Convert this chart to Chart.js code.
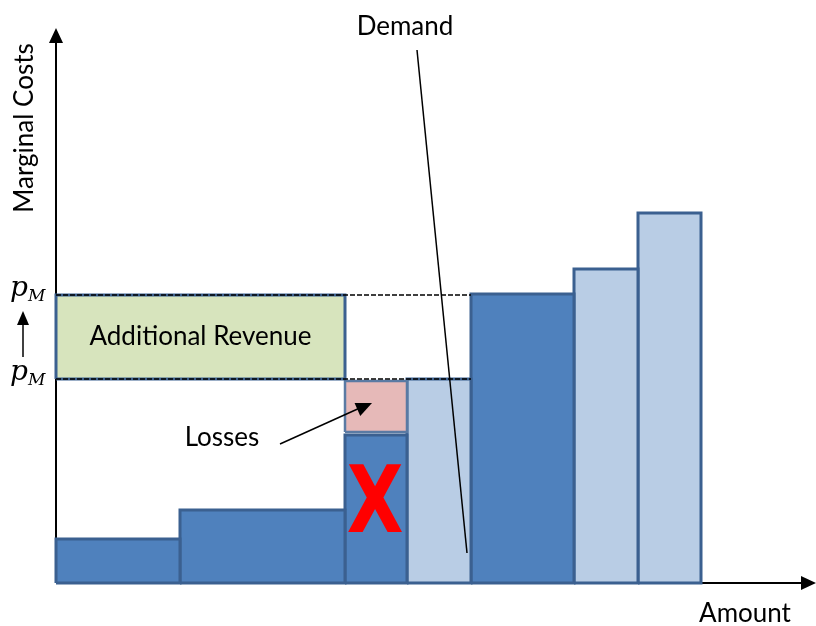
<!DOCTYPE html>
<html>
<head>
<meta charset="utf-8">
<script src="https://cdn.jsdelivr.net/npm/chart.js@4.4.1/dist/chart.umd.min.js"></script>
<style>
  html, body { margin: 0; padding: 0; background: #fff; }
  #wrap { width: 816px; height: 626px; position: relative; }
</style>
</head>
<body>
<div id="wrap"><canvas id="meritChart"></canvas></div>
<script>
// merit order blocks (amount units / cost units)
const blockWidths = [124, 165, 62, 64, 103, 64, 63];
const blockCosts = [44, 73, 148, 204, 289, 314, 370];
const ownedByFirm = [true, true, true, false, true, false, false];

const priceLow = 204;
const priceHigh = 288;
const lossBottom = 151;
const withheldBlock = 2;      // the block marked with X
const demandLine = [{ x: 361, y: 533 }, { x: 411, y: 30 }];

const axisMaxX = 760;
const axisMaxY = 555;

const darkFill = '#4f81bd';
const lightFill = '#b9cde5';
const edge = '#3b6090';
const font = 'Lato, "Open Sans", sans-serif';

// cumulative starts of each block
const starts = [];
let acc = 0;
blockWidths.forEach(w => { starts.push(acc); acc += w; });

function rect(x0, x1, y0, y1) {
    return [
        { x: x0, y: y0 }, { x: x0, y: y1 }, { x: x1, y: y1 }, { x: x1, y: y0 }, { x: x0, y: y0 }
    ];
}

const datasets = [];

// dashed price lines, drawn over the boxes
const dashEnd = starts[4];
[priceHigh, priceLow].forEach(p => {
    datasets.push({
        data: [{ x: 0, y: p }, { x: dashEnd, y: p }],
        borderColor: '#000',
        borderWidth: 1.5,
        borderDash: [5, 2],
        fill: false,
        order: 2
    });
});

blockWidths.forEach((w, i) => {
    datasets.push({
        data: rect(starts[i], starts[i] + w, 0, blockCosts[i]),
        borderColor: edge,
        borderWidth: 3,
        backgroundColor: ownedByFirm[i] ? darkFill : lightFill,
        fill: 'shape',
        order: 10
    });
});

// additional revenue box
datasets.push({
    data: rect(0, starts[withheldBlock], priceLow, priceHigh),
    borderColor: edge,
    borderWidth: 3,
    backgroundColor: '#d7e4bd',
    fill: 'shape',
    order: 5
});

// losses box on top of the withheld block
datasets.push({
    data: rect(starts[withheldBlock], starts[withheldBlock] + blockWidths[withheldBlock], lossBottom, priceLow - 2),
    borderColor: '#5a7aa3',
    borderWidth: 2.5,
    backgroundColor: '#e6b9b8',
    fill: 'shape',
    order: 5
});

// demand
datasets.push({
    data: demandLine,
    borderColor: '#000',
    borderWidth: 1.5,
    fill: false,
    order: 1
});

function arrowHead(ctx, x0, y0, x1, y1, len, half) {
    const a = Math.atan2(y1 - y0, x1 - x0);
    ctx.beginPath();
    ctx.moveTo(x1, y1);
    ctx.lineTo(x1 - len * Math.cos(a) + half * Math.sin(a), y1 - len * Math.sin(a) - half * Math.cos(a));
    ctx.lineTo(x1 - len * Math.cos(a) - half * Math.sin(a), y1 - len * Math.sin(a) + half * Math.cos(a));
    ctx.closePath();
    ctx.fill();
}

const axesPlugin = {
    id: 'axes',
    beforeDatasetsDraw(chart) {
        const { ctx } = chart;
        const xs = chart.scales.x, ys = chart.scales.y;
        const ox = xs.getPixelForValue(0), oy = ys.getPixelForValue(0);
        const top = ys.getPixelForValue(axisMaxY), right = xs.getPixelForValue(axisMaxX);
        ctx.save();
        ctx.strokeStyle = '#000';
        ctx.fillStyle = '#000';
        ctx.lineWidth = 2;
        ctx.beginPath();
        ctx.moveTo(ox, oy);
        ctx.lineTo(ox, top + 10);
        ctx.moveTo(ox, oy);
        ctx.lineTo(right - 10, oy);
        ctx.stroke();
        arrowHead(ctx, ox, oy, ox, top, 15, 7);
        arrowHead(ctx, ox, oy, right, oy, 15, 7);
        ctx.restore();
    }
};

const labelsPlugin = {
    id: 'labels',
    afterDatasetsDraw(chart) {
        const { ctx } = chart;
        const xs = chart.scales.x, ys = chart.scales.y;
        const px = v => xs.getPixelForValue(v), py = v => ys.getPixelForValue(v);
        ctx.save();
        ctx.fillStyle = '#000';
        ctx.textAlign = 'center';
        ctx.textBaseline = 'middle';

        ctx.font = '26px ' + font;
        ctx.fillText('Additional Revenue', px(starts[withheldBlock] / 2), py((priceLow + priceHigh) / 2));
        ctx.fillText('Losses', px(166), py(145));
        ctx.fillText('Demand', px(349), 27);
        ctx.fillText('Amount', 745, 614);

        // losses arrow
        ctx.strokeStyle = '#000';
        ctx.lineWidth = 1.5;
        ctx.beginPath();
        ctx.moveTo(px(224), py(139));
        ctx.lineTo(px(306), py(176));
        ctx.stroke();
        arrowHead(ctx, px(224), py(139), px(316), py(180), 16, 7);

        // X over the withheld block, a bit narrowed
        ctx.save();
        ctx.fillStyle = '#ff0000';
        ctx.font = 'bold 92px "DejaVu Sans", "Liberation Sans", sans-serif';
        ctx.textBaseline = 'alphabetic';
        ctx.translate(px(starts[withheldBlock] + blockWidths[withheldBlock] / 2) - 1, py(51));
        ctx.scale(0.8, 1);
        ctx.fillText('X', 0, 0);
        ctx.restore();

        // y axis title
        ctx.fillStyle = '#000';
        ctx.save();
        ctx.translate(25, 128);
        ctx.rotate(-Math.PI / 2);
        ctx.font = '26px ' + font;
        ctx.fillText('Marginal Costs', 0, 0);
        ctx.restore();

        // price labels
        [priceHigh, priceLow].forEach(p => {
            const y = py(p) - 2;
            ctx.textAlign = 'left';
            ctx.textBaseline = 'alphabetic';
            ctx.font = 'italic 28px "DejaVu Serif", "Liberation Serif", serif';
            ctx.fillText('p', 10, y + 3);
            ctx.font = 'italic 17px "DejaVu Serif", "Liberation Serif", serif';
            ctx.fillText('M', 28, y + 8);
        });

        // arrow between the prices
        ctx.lineWidth = 1.5;
        ctx.beginPath();
        ctx.moveTo(23, py(priceLow) - 22);
        ctx.lineTo(23, py(priceHigh) + 28);
        ctx.stroke();
        arrowHead(ctx, 23, py(priceLow) - 22, 23, py(priceHigh) + 16, 14, 6);
        ctx.restore();
    }
};

new Chart(document.getElementById('meritChart'), {
    type: 'line',
    data: { datasets },
    options: {
        responsive: true,
        maintainAspectRatio: false,
        animation: false,
        layout: { padding: { left: 56, top: 28, right: 0, bottom: 43 } },
        elements: { point: { radius: 0, hoverRadius: 0 }, line: { tension: 0 } },
        datasets: { line: { clip: false, pointRadius: 0 } },
        scales: {
            x: { type: 'linear', min: 0, max: axisMaxX, display: false },
            y: { type: 'linear', min: 0, max: axisMaxY, display: false }
        },
        plugins: { legend: { display: false }, tooltip: { enabled: false } }
    },
    plugins: [axesPlugin, labelsPlugin]
});
</script>
</body>
</html>
